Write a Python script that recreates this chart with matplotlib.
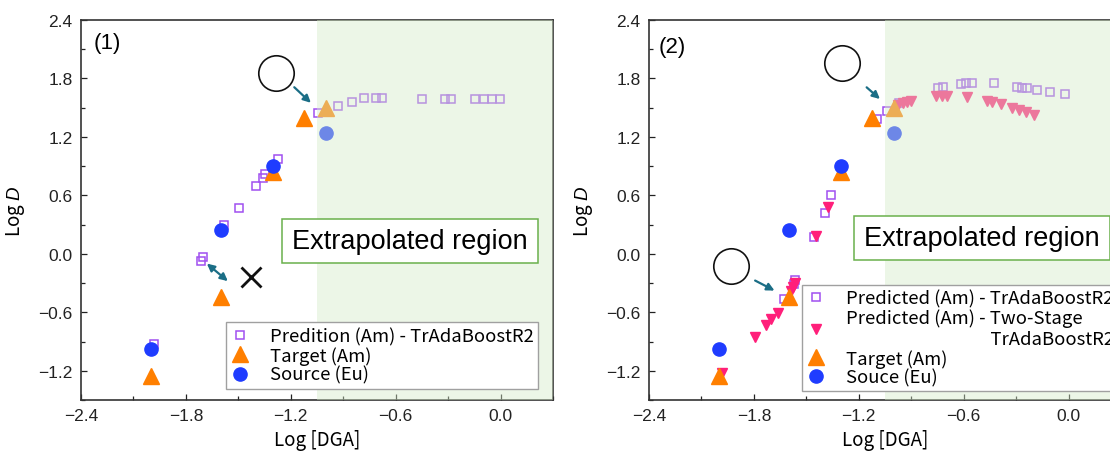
import matplotlib
matplotlib.use("Agg")
import matplotlib.pyplot as plt
from matplotlib.font_manager import FontProperties
from matplotlib.lines import Line2D
from matplotlib.patches import Rectangle
from matplotlib.ticker import FuncFormatter, MultipleLocator

plt.rcParams["font.family"] = ["Liberation Sans", "DejaVu Sans"]
plt.rcParams["mathtext.fontset"] = "custom"
plt.rcParams["mathtext.it"] = "Liberation Sans:italic"
plt.rcParams["mathtext.rm"] = "Liberation Sans"

# ---- panel (1) data ----
L_PRED_X = [-1.984, -1.712, -1.702, -1.58, -1.498, -1.40, -1.36, -1.345, -1.273,
            -1.046, -0.932, -0.851, -0.781, -0.712, -0.677, -0.448, -0.316,
            -0.283, -0.145, -0.095, -0.048, -0.003]
L_PRED_Y = [-0.926, -0.069, -0.034, 0.295, 0.466, 0.696, 0.78, 0.82, 0.974,
            1.443, 1.514, 1.562, 1.596, 1.596, 1.596, 1.593, 1.593,
            1.593, 1.59, 1.59, 1.59, 1.59]

# ---- panel (2) data ----
R_PRED_X = [-1.626, -1.572, -1.562, -1.457, -1.395, -1.357, -1.097, -1.04,
            -0.968, -0.745, -0.716, -0.617, -0.586, -0.554, -0.426, -0.296,
            -0.269, -0.239, -0.179, -0.105, -0.018]
R_PRED_Y = [-0.459, -0.31, -0.267, 0.178, 0.418, 0.6, 1.384, 1.463,
            1.548, 1.702, 1.709, 1.743, 1.75, 1.753, 1.752, 1.714,
            1.704, 1.697, 1.68, 1.663, 1.642]
R_TWO_X = [-1.98, -1.793, -1.733, -1.702, -1.662, -1.588, -1.578, -1.566,
           -1.447, -1.377, -0.974, -0.949, -0.926, -0.903, -0.758, -0.726,
           -0.694, -0.579, -0.466, -0.436, -0.386, -0.326, -0.285, -0.245, -0.199]
R_TWO_Y = [-1.227, -0.857, -0.73, -0.672, -0.603, -0.38, -0.336, -0.295,
           0.185, 0.48, 1.528, 1.548, 1.555, 1.566, 1.617, 1.617,
           1.623, 1.607, 1.567, 1.557, 1.533, 1.498, 1.481, 1.454, 1.430]

# ---- shared target / source ----
TARGET_X = [-2.0, -1.6, -1.3, -1.125, -1.0]
TARGET_Y = [-1.255, -0.44, 0.84, 1.39, 1.50]
SOURCE_X = [-2.0, -1.6, -1.3, -1.0]
SOURCE_Y = [-0.98, 0.245, 0.898, 1.245]

EXTRAP_START = -1.05
XLIM = (-2.4, 0.3)
YLIM = (-1.5, 2.4)

PURPLE = "#a050f0"
PINK = "#ff1f7a"
ORANGE = "#ff7f00"
BLUE = "#1f3cff"
TEAL = "#1b6e86"
GREEN_EDGE = "#6ab04c"

JP = ["Noto Sans CJK JP", "DejaVu Sans"]
LEG_SIZE = 13.3


def fmt(v, _pos):
    s = f"{v:.1f}"
    if s == "-0.0":
        s = "0.0"
    return s.replace("-", "\u2212")


def style_axes(ax):
    ax.set_xlim(*XLIM)
    ax.set_ylim(*YLIM)
    ax.set_xticks([-2.4, -1.8, -1.2, -0.6, 0.0])
    ax.set_yticks([-1.2, -0.6, 0.0, 0.6, 1.2, 1.8, 2.4])
    ax.xaxis.set_minor_locator(MultipleLocator(0.3))
    ax.yaxis.set_minor_locator(MultipleLocator(0.3))
    ax.xaxis.set_major_formatter(FuncFormatter(fmt))
    ax.yaxis.set_major_formatter(FuncFormatter(fmt))
    ax.tick_params(which="both", direction="in", width=0.9, pad=6,
                   labelsize=12.5, colors="#222222")
    ax.tick_params(which="major", length=4)
    ax.tick_params(which="minor", length=3)
    for sp in ax.spines.values():
        sp.set_linewidth(1.2)
        sp.set_color("#333333")
    ax.set_xlabel("Log [DGA]", family=JP, fontsize=13.5, labelpad=4)
    ax.set_ylabel("Log $D$", family=JP, fontsize=13.5, labelpad=8)
    # translucent green overlay over the extrapolated region
    ax.axvspan(EXTRAP_START, XLIM[1], color="#d5ecc9", alpha=0.43,
               linewidth=0, zorder=4)


def extrap_box(ax, x0, y0, w, h):
    ax.add_patch(Rectangle((x0, y0), w, h, facecolor="white",
                           edgecolor=GREEN_EDGE, linewidth=1.1, zorder=6))
    ax.text(x0 + w / 2, y0 + h / 2, "Extrapolated region",
            fontsize=19.5, ha="center", va="center", zorder=7)


def ring(ax, x, y):
    ax.plot([x], [y], marker="o", markersize=25.5, markerfacecolor="none",
            markeredgecolor="#111111", markeredgewidth=1.2, zorder=5)


def arrow(ax, start, end, both=False):
    ax.annotate("", xy=end, xytext=start, zorder=5,
                arrowprops=dict(arrowstyle="<|-|>" if both else "-|>",
                                color=TEAL, lw=1.6, mutation_scale=11,
                                shrinkA=0, shrinkB=0))


fig = plt.figure(figsize=(11.1, 4.56), dpi=100)
ax1 = fig.add_axes([81 / 1110, 55 / 456, 472 / 1110, 380 / 456])
ax2 = fig.add_axes([649 / 1110, 55 / 456, 472 / 1110, 380 / 456])

sq_kw = dict(linestyle="none", marker="s", markersize=5.5, markerfacecolor="none",
             markeredgecolor=PURPLE, markeredgewidth=1.1, zorder=3)
tri_kw = dict(linestyle="none", marker="^", markersize=11, color=ORANGE, zorder=3)
dot_kw = dict(linestyle="none", marker="o", markersize=9.5, color=BLUE, zorder=3)
pink_kw = dict(linestyle="none", marker="v", markersize=7.5, color=PINK, zorder=3)

leg_kw = dict(borderaxespad=0, prop={"family": JP, "size": LEG_SIZE}, frameon=True,
              fancybox=False, edgecolor="#a0a0a0", framealpha=1, numpoints=1,
              handlelength=1.0, handletextpad=1.1, borderpad=0.25,
              labelspacing=0.05)

# ---- panel (1) ----
style_axes(ax1)
ax1.plot(L_PRED_X, L_PRED_Y, **sq_kw)
ax1.plot(TARGET_X, TARGET_Y, **tri_kw)
ax1.plot(SOURCE_X, SOURCE_Y, **dot_kw)
ax1.text(-2.25, 2.17, "(1)", fontsize=16, ha="center", va="center")
ring(ax1, -1.285, 1.86)
arrow(ax1, (-1.18, 1.71), (-1.085, 1.55))
ax1.plot([-1.427], [-0.233], marker="x", markersize=15, markeredgewidth=2,
         color="#111111", zorder=5)
arrow(ax1, (-1.68, -0.10), (-1.56, -0.28), both=True)
extrap_box(ax1, -1.253, -0.096, 1.465, 0.452)

h1 = [Line2D([], [], **sq_kw), Line2D([], [], **tri_kw), Line2D([], [], **dot_kw)]
leg1 = ax1.legend(h1, ["Predition (Am) - TrAdaBoostR2", "Target (Am)", "Source (Eu)"],
                  loc="lower right", bbox_to_anchor=(0.968, 0.030), **leg_kw)
leg1.get_frame().set_linewidth(1.0)
leg1.set_zorder(8)

# ---- panel (2) ----
style_axes(ax2)
ax2.plot(R_PRED_X, R_PRED_Y, **sq_kw)
ax2.plot(R_TWO_X, R_TWO_Y, **pink_kw)
ax2.plot(TARGET_X, TARGET_Y, **tri_kw)
ax2.plot(SOURCE_X, SOURCE_Y, **dot_kw)
ax2.text(-2.265, 2.13, "(2)", fontsize=16, ha="center", va="center")
ring(ax2, -1.297, 1.954)
arrow(ax2, (-1.155, 1.709), (-1.079, 1.589))
ring(ax2, -1.93, -0.123)
arrow(ax2, (-1.793, -0.274), (-1.682, -0.377))
extrap_box(ax2, -1.23, -0.062, 1.465, 0.446)

# second line of the two-stage label ends under the end of the first label
first_label = "Predicted (Am) - TrAdaBoostR2"
tail = "TrAdaBoostR2"
renderer = fig.canvas.get_renderer()
fp = FontProperties(family=JP, size=LEG_SIZE)
target_w = renderer.get_text_width_height_descent(first_label, fp, ismath=False)[0]
n_sp = 0
while renderer.get_text_width_height_descent(" " * n_sp + tail, fp, ismath=False)[0] < target_w and n_sp < 200:
    n_sp += 1

h2 = [Line2D([], [], **sq_kw), Line2D([], [], **pink_kw),
      Line2D([], [], **tri_kw), Line2D([], [], **dot_kw)]
labels2 = [first_label,
           "Predicted (Am) - Two-Stage\n" + " " * n_sp + tail,
           "Target (Am)", "Souce (Eu)"]
leg2 = ax2.legend(h2, labels2, loc="upper left", bbox_to_anchor=(0.325, 0.303),
                  **leg_kw)
leg2.get_frame().set_linewidth(1.0)
leg2.set_zorder(8)

fig.savefig("out.png", dpi=100)
